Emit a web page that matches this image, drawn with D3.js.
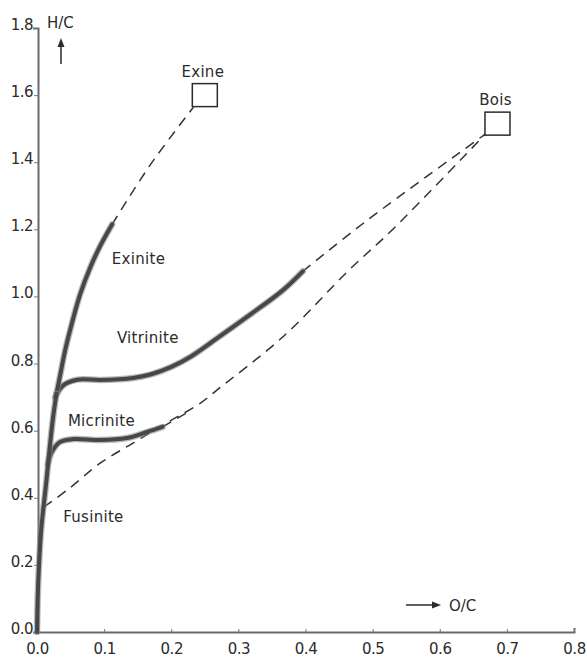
<!DOCTYPE html>
<html>
<head>
<meta charset="utf-8">
<script src="https://cdn.jsdelivr.net/npm/d3@7"></script>
<style>
  body { margin: 0; background: #fff; }
  text { font-family: "DejaVu Sans", sans-serif; fill: #2b2b2b; }
</style>
</head>
<body>
<svg id="chart" width="587" height="660"></svg>
<script>
// tick values
const xTicks = [0, 0.1, 0.2, 0.3, 0.4, 0.5, 0.6, 0.7, 0.8];
const yTicks = [0, 0.2, 0.4, 0.6, 0.8, 1.0, 1.2, 1.4, 1.6, 1.8];

// coalification bands, [O/C, H/C]
const trunk = [[0, 0], [0.001, 0.1], [0.003, 0.2], [0.006, 0.3], [0.009, 0.36], [0.014, 0.45], [0.019, 0.55], [0.024, 0.64], [0.029, 0.71]];
const exinite = [[0.029, 0.71], [0.034, 0.76], [0.042, 0.84], [0.052, 0.92], [0.064, 1.005], [0.079, 1.085], [0.094, 1.15], [0.112, 1.215]];
const vitrinite = [[0.027, 0.70], [0.039, 0.735], [0.06, 0.752], [0.094, 0.751], [0.143, 0.757], [0.17, 0.768], [0.2, 0.79], [0.23, 0.822], [0.268, 0.875], [0.317, 0.945], [0.366, 1.018], [0.396, 1.075]];
const micrinite = [[0.016, 0.5], [0.022, 0.536], [0.034, 0.566], [0.054, 0.575], [0.094, 0.572], [0.134, 0.578], [0.164, 0.596], [0.187, 0.611]];

// dashed connections to the parent materials
const exineLink = [[0.112, 1.215], [0.168, 1.39], [0.233, 1.564]];
const vitriniteLink = [[0.396, 1.075], [0.49, 1.224], [0.668, 1.484]];
const micriniteLink = [[0.187, 0.611], [0.223, 0.653]];
const fusiniteLink = [[0.010, 0.372], [0.045, 0.423], [0.094, 0.503], [0.143, 0.563], [0.193, 0.623], [0.242, 0.68], [0.268, 0.721], [0.366, 0.879], [0.465, 1.079], [0.529, 1.198], [0.668, 1.484]];

// parent materials
const parentNames = ['Exine', 'Bois'];
const parentOC = [0.25, 0.686];
const parentHC = [1.6, 1.515];

const svg = d3.select('#chart');

const x = d3.scaleLinear().domain([0, 0.8]).range([37, 574]);
const y = d3.scaleLinear().domain([0, 1.8]).range([632, 28]);

// axes
const yAxis = svg.append('g')
  .attr('transform', `translate(${x(0) + 1},0)`)
  .call(d3.axisLeft(y).tickValues(yTicks).tickFormat(d3.format('.1f')).tickSize(4).tickSizeOuter(5).tickPadding(1));
const xAxis = svg.append('g')
  .attr('transform', `translate(0,${y(0)})`)
  .call(d3.axisBottom(x).tickValues(xTicks).tickFormat(d3.format('.1f')).tickSize(-3).tickSizeOuter(-4).tickPadding(11));

[yAxis, xAxis].forEach(g => {
  g.select('.domain').attr('stroke', '#6a6a6a').attr('stroke-width', 2);
  g.selectAll('.tick line').attr('stroke', '#777').attr('stroke-width', 1);
  g.selectAll('.tick text')
    .style('font-family', '"DejaVu Sans", sans-serif')
    .style('font-size', '15px')
    .style('letter-spacing', '-0.5px')
    .attr('fill', '#2b2b2b');
});
yAxis.selectAll('.tick text').attr('dy', '0.1em');

// axis titles
svg.append('text').attr('x', 47).attr('y', 28).style('font-size', '15px').text('H/C');
svg.append('line')
  .attr('x1', 61).attr('y1', 64).attr('x2', 61).attr('y2', 43)
  .attr('stroke', '#2b2b2b').attr('stroke-width', 1.5);
svg.append('path').attr('d', 'M61,38 L57.5,47 L64.5,47 Z').attr('fill', '#2b2b2b');

svg.append('line')
  .attr('x1', 406).attr('y1', 605).attr('x2', 434).attr('y2', 605)
  .attr('stroke', '#2b2b2b').attr('stroke-width', 1.5);
svg.append('path').attr('d', 'M441,605 L432,601.5 L432,608.5 Z').attr('fill', '#2b2b2b');
svg.append('text').attr('x', 449).attr('y', 611).style('font-size', '15px').text('O/C');

const line = d3.line()
  .x(d => x(d[0]))
  .y(d => y(d[1]))
  .curve(d3.curveCatmullRom.alpha(0.5));

// dashed links
[exineLink, vitriniteLink, micriniteLink, fusiniteLink].forEach(pts => {
  svg.append('path')
    .datum(pts)
    .attr('fill', 'none')
    .attr('stroke', '#333')
    .attr('stroke-width', 1.5)
    .attr('stroke-dasharray', '10,7')
    .attr('d', line);
});

// solid bands
[micrinite, vitrinite, exinite, trunk].forEach(pts => {
  svg.append('path')
    .datum(pts)
    .attr('fill', 'none')
    .attr('stroke', '#8a8a8a')
    .attr('stroke-width', 6.5)
    .attr('stroke-linecap', 'round')
    .attr('opacity', 0.6)
    .attr('d', line);
  svg.append('path')
    .datum(pts)
    .attr('fill', 'none')
    .attr('stroke', '#474747')
    .attr('stroke-width', 4)
    .attr('stroke-linecap', 'round')
    .attr('d', line);
});

// parent material boxes
const boxW = 25, boxH = 23;
parentNames.forEach((name, i) => {
  const cx = x(parentOC[i]), cy = y(parentHC[i]);
  svg.append('rect')
    .attr('x', cx - boxW / 2).attr('y', cy - boxH / 2)
    .attr('width', boxW).attr('height', boxH)
    .attr('fill', '#fff')
    .attr('stroke', '#2b2b2b')
    .attr('stroke-width', 1.5);
  svg.append('text')
    .attr('x', cx - 2).attr('y', cy - boxH / 2 - 7)
    .attr('text-anchor', 'middle')
    .style('font-size', '15px')
    .style('letter-spacing', '0.3px')
    .text(name);
});

// maceral labels
const labels = [
  { text: 'Exinite', oc: 0.1115, hc: 1.097 },
  { text: 'Vitrinite', oc: 0.119, hc: 0.861 },
  { text: 'Micrinite', oc: 0.046, hc: 0.614 },
  { text: 'Fusinite', oc: 0.039, hc: 0.328 }
];
labels.forEach(l => {
  svg.append('text')
    .attr('x', x(l.oc)).attr('y', y(l.hc))
    .style('font-size', '15px')
    .style('letter-spacing', '0.3px')
    .text(l.text);
});
</script>
</body>
</html>
